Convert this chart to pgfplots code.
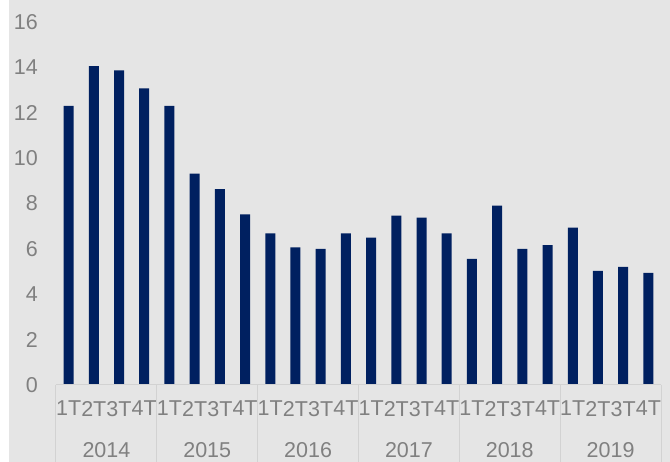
\documentclass[border=0pt]{standalone}
\usepackage{fontspec}
\setmainfont{Liberation Sans}
\usepackage{pgfplots}
\pgfplotsset{compat=1.18}
\definecolor{bg}{RGB}{229,229,229}
\definecolor{barblue}{RGB}{0,32,96}
\definecolor{txt}{RGB}{128,128,128}
\definecolor{sep}{RGB}{210,210,210}
\newcommand{\lblfont}{\fontsize{21.5}{25}\selectfont}
\begin{document}
\begin{tikzpicture}
\useasboundingbox (0pt,0pt) rectangle (670pt,462pt);
\fill[bg] (9pt,0pt) rectangle (670pt,462pt);
\begin{axis}[
 at={(56pt,77pt)}, anchor=south west,
 scale only axis, width=605pt, height=363pt,
 xmin=-0.5, xmax=23.5, ymin=0, ymax=16,
 ytick={0,2,4,6,8,10,12,14,16},
 xtick={0,...,23},
 xticklabels={1T,2T,3T,4T,1T,2T,3T,4T,1T,2T,3T,4T,1T,2T,3T,4T,1T,2T,3T,4T,1T,2T,3T,4T},
 axis line style={draw=none}, tick style={draw=none},
 major tick length=0pt,
 clip=false,
 ticklabel style={font=\lblfont, text=txt, inner sep=0pt},
 xticklabel style={anchor=north, yshift=-16pt},
 yticklabel style={anchor=east, xshift=-18pt},
 /pgf/number format/assume math mode=true,
]
\pgfplotsinvokeforeach{-0.5,3.5,7.5,11.5,15.5,19.5,23.5}{
  \draw[sep, line width=1pt] (axis cs:#1,0) -- ++(0pt,-77pt);
}
\addplot[ybar, bar width=10pt, fill=barblue, draw=none] coordinates {
(0,12.3) (1,14.05) (2,13.87) (3,13.07) (4,12.3) (5,9.32) (6,8.63) (7,7.52)
(8,6.68) (9,6.07) (10,6.0) (11,6.68) (12,6.5) (13,7.47) (14,7.38) (15,6.68)
(16,5.56) (17,7.91) (18,6.0) (19,6.17) (20,6.94) (21,5.03) (22,5.21) (23,4.94)
};
\draw[sep, line width=1pt] (axis cs:-0.5,0) -- (axis cs:23.5,0);
\node[font=\lblfont, text=txt, anchor=north, inner sep=0pt, yshift=-57pt] at (axis cs:1.5,0) {2014};
\node[font=\lblfont, text=txt, anchor=north, inner sep=0pt, yshift=-57pt] at (axis cs:5.5,0) {2015};
\node[font=\lblfont, text=txt, anchor=north, inner sep=0pt, yshift=-57pt] at (axis cs:9.5,0) {2016};
\node[font=\lblfont, text=txt, anchor=north, inner sep=0pt, yshift=-57pt] at (axis cs:13.5,0) {2017};
\node[font=\lblfont, text=txt, anchor=north, inner sep=0pt, yshift=-57pt] at (axis cs:17.5,0) {2018};
\node[font=\lblfont, text=txt, anchor=north, inner sep=0pt, yshift=-57pt] at (axis cs:21.5,0) {2019};
\end{axis}
\end{tikzpicture}
\end{document}
